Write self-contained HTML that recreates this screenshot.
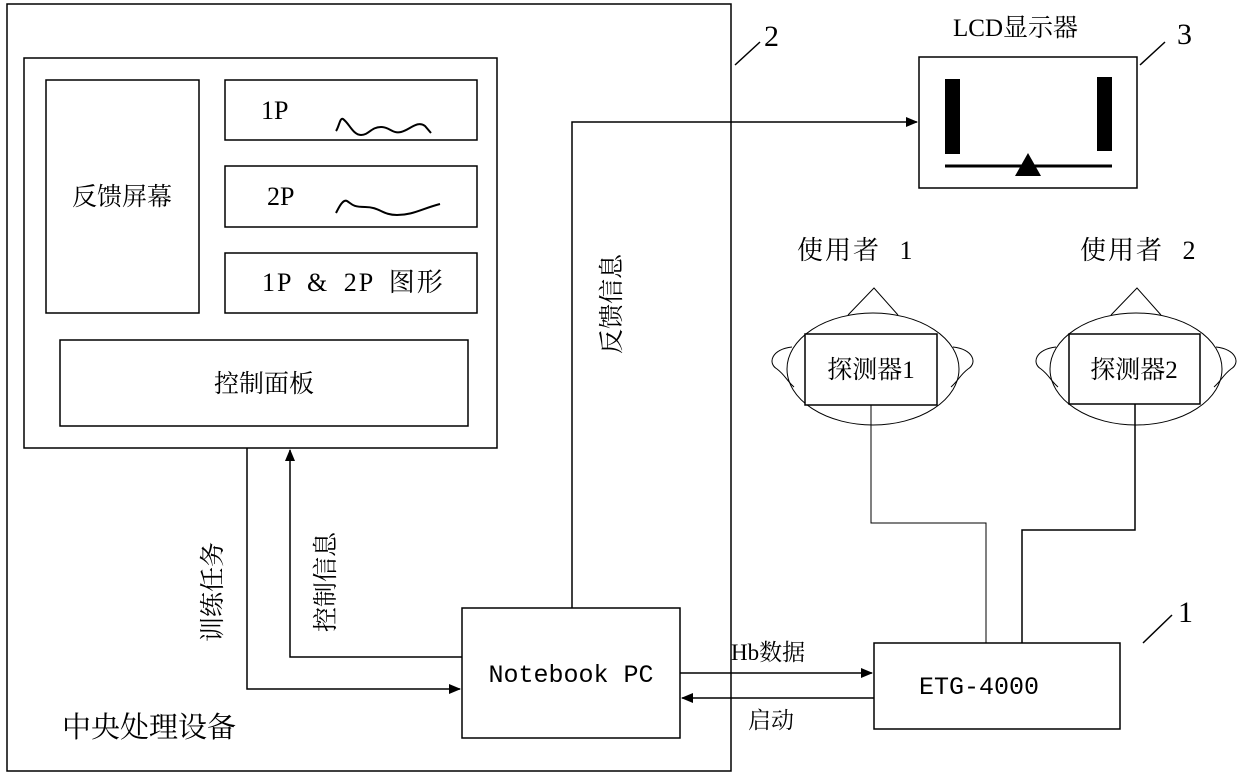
<!DOCTYPE html>
<html><head><meta charset="utf-8"><style>
html,body{margin:0;padding:0;background:#fff;}
svg{display:block;}
text{font-family:"Liberation Serif","Noto Serif CJK SC",serif;fill:#000;}
</style></head><body>
<svg width="1240" height="781" viewBox="0 0 1240 781" xmlns="http://www.w3.org/2000/svg">
<defs><marker id="a" markerWidth="12" markerHeight="10" refX="11" refY="5" orient="auto" markerUnits="userSpaceOnUse"><path d="M0,0 L12,5 L0,10 Z" fill="#000"/></marker></defs>
<g fill="none" stroke="#000" stroke-width="1.5">
<rect x="7" y="4" width="724" height="767"/>
<rect x="24" y="58" width="473" height="390"/>
<rect x="46" y="80" width="153" height="233"/>
<rect x="225" y="80" width="252" height="60"/>
<rect x="225" y="166" width="252" height="61"/>
<rect x="225" y="253" width="252" height="60"/>
<rect x="60" y="340" width="408" height="86"/>
<path d="M336,131 c3,-4 4,-14 7,-12 c6,4 10,16 18,16 c8,0 10,-8 20,-8 c9,0 11,7 20,5 c9,-2 16,-12 24,-6 l6,7" stroke-width="2"/>
<path d="M336,239 " stroke-width="2"/>
<path d="M336,213 c3,-6 7,-14 11,-12 c5,3 5,6 18,6 c15,0 17,8 32,8 c16,0 24,-6 43,-11" stroke-width="2"/>
<rect x="919" y="57" width="218" height="131"/>
<rect x="462" y="608" width="218" height="130"/>
<rect x="874" y="643" width="246" height="86"/>
<ellipse cx="873" cy="369" rx="86" ry="56" stroke-width="1"/>
<ellipse cx="1136" cy="369" rx="86" ry="56" stroke-width="1"/>
<path d="M792,347 c-20,2 -25,16 -15,22 c8,6 10,12 17,18" stroke-width="1"/>
<path d="M953,347 c20,2 25,16 15,22 c-8,6 -10,12 -17,18" stroke-width="1"/>
<path d="M1056,347 c-20,2 -25,16 -15,22 c8,6 10,12 17,18" stroke-width="1"/>
<path d="M1216,347 c20,2 25,16 15,22 c-8,6 -10,12 -17,18" stroke-width="1"/>
<path d="M848,315 L874,288 L898,315" stroke-width="1"/>
<path d="M1111,315 L1137,288 L1161,315" stroke-width="1"/>
<rect x="805" y="334" width="132" height="71" fill="#fff"/>
<rect x="1069" y="334" width="131" height="70" fill="#fff"/>
<path d="M871,405 V523 H986 V643" stroke-width="1"/>
<path d="M1135,404 V530 H1022 V643" stroke-width="1.5"/>
<path d="M572,608 V122 H917" marker-end="url(#a)"/>
<path d="M462,657 H290 V450" marker-end="url(#a)"/>
<path d="M247,448 V689 H460" marker-end="url(#a)"/>
<path d="M680,673 H872" marker-end="url(#a)"/>
<path d="M874,698 H682" marker-end="url(#a)"/>
<path d="M735,65 L760,42"/>
<path d="M1140,65 L1165,42"/>
<path d="M1143,643 L1172,615"/>
<path d="M945,166 H1112" stroke-width="3"/>
</g>
<rect x="945" y="79" width="15" height="75" fill="#000"/>
<rect x="1097" y="77" width="15" height="74" fill="#000"/>
<path d="M1028,153 L1041,176 L1015,176 Z" fill="#000"/>
<text x="122" y="205" font-size="25" text-anchor="middle">反馈屏幕</text>
<text x="261" y="119" font-size="26">1P</text>
<text x="267" y="205" font-size="26">2P</text>
<text x="262" y="291" font-size="26" letter-spacing="2" style="word-spacing:6px">1P &amp; 2P 图形</text>
<text x="264" y="392" font-size="25" text-anchor="middle">控制面板</text>
<text x="571" y="682" font-size="25" text-anchor="middle" style="font-family:'Liberation Mono',monospace">Notebook PC</text>
<text x="979" y="694" font-size="25" text-anchor="middle" style="font-family:'Liberation Mono',monospace">ETG-4000</text>
<text x="871" y="378" font-size="25" text-anchor="middle">探测器1</text>
<text x="1134" y="378" font-size="25" text-anchor="middle">探测器2</text>
<text x="953" y="36" font-size="25">LCD显示器</text>
<text x="797" y="259" font-size="26" letter-spacing="2" style="word-spacing:10px">使用者 1</text>
<text x="1080" y="259" font-size="26" letter-spacing="2" style="word-spacing:10px">使用者 2</text>
<text x="764" y="46" font-size="30">2</text>
<text x="1177" y="44" font-size="30">3</text>
<text x="1178" y="622" font-size="30">1</text>
<text x="731" y="660" font-size="23">Hb数据</text>
<text x="748" y="728" font-size="23">启动</text>
<text x="62" y="737" font-size="29">中央处理设备</text>
<text transform="translate(620,354) rotate(-90)" font-size="25">反馈信息</text>
<text transform="translate(221,642) rotate(-90)" font-size="25">训练任务</text>
<text transform="translate(334,632) rotate(-90)" font-size="25">控制信息</text>
</svg>
</body></html>
